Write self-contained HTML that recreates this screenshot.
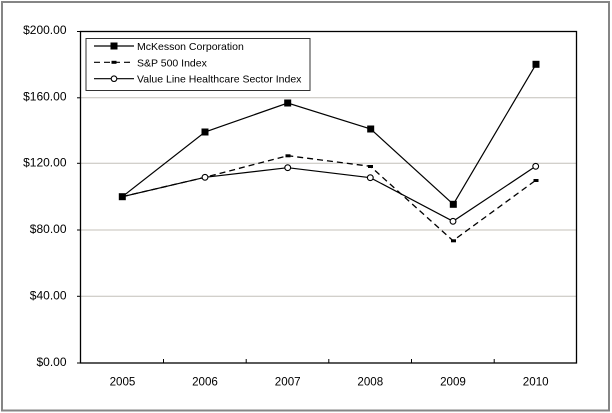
<!DOCTYPE html>
<html><head><meta charset="utf-8"><style>
html,body{margin:0;padding:0;background:#fff;}
svg{display:block;font-family:"Liberation Sans",Arial,sans-serif;}
</style></head><body>
<svg width="612" height="413" viewBox="0 0 612 413" xmlns="http://www.w3.org/2000/svg">
<rect x="0" y="0" width="612" height="413" fill="#fff"/>
<rect x="2" y="2" width="607" height="408.5" fill="none" stroke="#858585" stroke-width="2"/>
<!-- gridlines -->
<g stroke="#c4c0ba" stroke-width="1">
<line x1="81" y1="97.8" x2="576" y2="97.8"/>
<line x1="81" y1="163.3" x2="576" y2="163.3"/>
<line x1="81" y1="230" x2="576" y2="230"/>
<line x1="81" y1="296.3" x2="576" y2="296.3"/>
</g>
<!-- plot box -->
<rect x="80.5" y="31.5" width="496" height="331.5" fill="none" stroke="#000" stroke-width="1.3"/>
<!-- ticks -->
<g stroke="#000" stroke-width="1">
<line x1="77" y1="31.5" x2="81" y2="31.5"/>
<line x1="77" y1="97.8" x2="81" y2="97.8"/>
<line x1="77" y1="163.3" x2="81" y2="163.3"/>
<line x1="77" y1="230" x2="81" y2="230"/>
<line x1="77" y1="296.3" x2="81" y2="296.3"/>
<line x1="77" y1="363" x2="81" y2="363"/>
<line x1="163.5" y1="359" x2="163.5" y2="363"/>
<line x1="246.2" y1="359" x2="246.2" y2="363"/>
<line x1="328.8" y1="359" x2="328.8" y2="363"/>
<line x1="411.5" y1="359" x2="411.5" y2="363"/>
<line x1="494.2" y1="359" x2="494.2" y2="363"/>
</g>
<!-- y labels -->
<g font-size="12" fill="#000" text-anchor="end">
<text x="66.5" y="34">$200.00</text>
<text x="66.5" y="100.3">$160.00</text>
<text x="66.5" y="166.6">$120.00</text>
<text x="66.5" y="233">$80.00</text>
<text x="66.5" y="299.3">$40.00</text>
<text x="66.5" y="366">$0.00</text>
</g>
<!-- x labels -->
<g font-size="11.6" fill="#000" text-anchor="middle">
<text x="122.5" y="385.7">2005</text>
<text x="205" y="385.7">2006</text>
<text x="287.7" y="385.7">2007</text>
<text x="370.3" y="385.7">2008</text>
<text x="453" y="385.7">2009</text>
<text x="535.7" y="385.7">2010</text>
</g>
<!-- S&P dashed -->
<polyline points="122.3,196.7 205,177.3 287.7,155.7 370.3,166.3 453,240.7 535.7,180.3" fill="none" stroke="#000" stroke-width="1.3" stroke-dasharray="6,4"/>
<g fill="#000">
<rect x="203" y="176" width="5" height="3"/>
<rect x="285.5" y="154.3" width="5" height="3"/>
<rect x="368" y="165" width="5" height="3"/>
<rect x="451" y="239.3" width="5" height="3"/>
<rect x="533.5" y="179" width="5" height="3"/>
</g>
<!-- Value Line -->
<polyline points="122.3,196.7 205,177.3 287.7,167.7 370.3,177.7 453,221.3 535.7,166.3" fill="none" stroke="#000" stroke-width="1.2"/>
<g fill="#fff" stroke="#000" stroke-width="1.1">
<circle cx="205" cy="177.3" r="2.9"/>
<circle cx="287.7" cy="167.7" r="2.9"/>
<circle cx="370.3" cy="177.7" r="2.9"/>
<circle cx="453" cy="221.3" r="2.9"/>
<circle cx="535.7" cy="166.3" r="2.9"/>
</g>
<!-- McKesson -->
<polyline points="122.3,196.7 205,132 287.7,103 370.7,129 453.3,204.3 536,64.3" fill="none" stroke="#000" stroke-width="1.2"/>
<g fill="#000">
<rect x="118.8" y="193.2" width="7" height="7"/>
<rect x="201.5" y="128.5" width="7" height="7"/>
<rect x="284.2" y="99.5" width="7" height="7"/>
<rect x="367.2" y="125.5" width="7" height="7"/>
<rect x="449.8" y="200.8" width="7" height="7"/>
<rect x="532.5" y="60.8" width="7" height="7"/>
</g>
<!-- legend -->
<rect x="86" y="38.5" width="224" height="52" fill="#fff" stroke="#333" stroke-width="1"/>
<line x1="94" y1="46" x2="134" y2="46" stroke="#000" stroke-width="1.2"/>
<rect x="110.5" y="42.5" width="7" height="7" fill="#000"/>
<line x1="94" y1="62.3" x2="134" y2="62.3" stroke="#000" stroke-width="1.2" stroke-dasharray="6,4"/>
<rect x="111.5" y="60.8" width="5" height="3" fill="#000"/>
<line x1="94" y1="78.7" x2="134" y2="78.7" stroke="#000" stroke-width="1.2"/>
<circle cx="114" cy="78.7" r="2.8" fill="#fff" stroke="#000" stroke-width="1.1"/>
<g font-size="10.5" fill="#000">
<text x="137" y="50">McKesson Corporation</text>
<text x="137" y="66.3">S&amp;P 500 Index</text>
<text x="137" y="82.7">Value Line Healthcare Sector Index</text>
</g>
</svg>
</body></html>
